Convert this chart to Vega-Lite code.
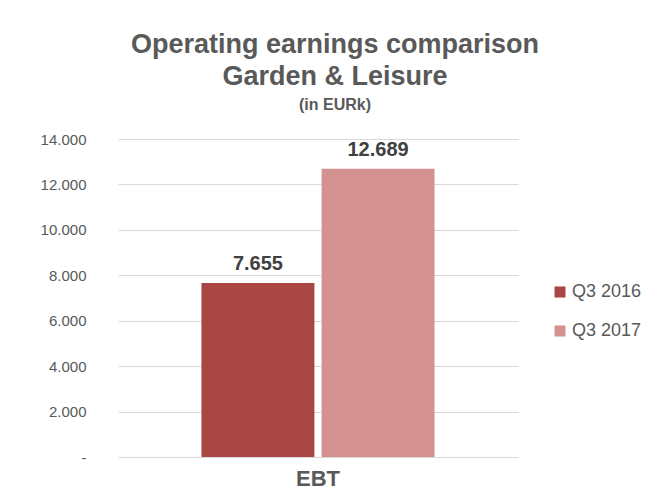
{
  "$schema": "https://vega.github.io/schema/vega-lite/v6.json",
  "autosize": "none",
  "width": 400,
  "height": 318,
  "padding": {"left": 118, "top": 139, "right": 137, "bottom": 46},
  "background": "white",
  "title": {
    "text": ["Operating earnings comparison", "Garden & Leisure"],
    "subtitle": "(in EURk)",
    "anchor": "middle",
    "dx": 17,
    "font": "Liberation Sans",
    "fontSize": 27,
    "fontWeight": "bold",
    "color": "#595959",
    "lineHeight": 32,
    "subtitleFont": "Liberation Sans",
    "subtitleFontSize": 16,
    "subtitleFontWeight": "bold",
    "subtitleColor": "#595959",
    "subtitlePadding": 6,
    "offset": 18
  },
  "data": {
    "values": [
      {"category": "EBT", "period": "Q3 2016", "value": 7655},
      {"category": "EBT", "period": "Q3 2017", "value": 12689}
    ]
  },
  "encoding": {
    "x": {
      "field": "category",
      "type": "nominal",
      "scale": {"paddingInner": 0, "paddingOuter": 0.358},
      "axis": {
        "title": null,
        "labelAngle": 0,
        "domain": false,
        "ticks": false,
        "labelFont": "Liberation Sans",
        "labelFontSize": 22,
        "labelFontWeight": "bold",
        "labelColor": "#595959",
        "labelPadding": 11
      }
    },
    "xOffset": {
      "field": "period",
      "type": "nominal",
      "scale": {"paddingInner": 0.06}
    },
    "y": {
      "field": "value",
      "type": "quantitative",
      "scale": {"domain": [0, 14000]},
      "axis": {
        "title": null,
        "values": [0, 2000, 4000, 6000, 8000, 10000, 12000, 14000],
        "labelExpr": "datum.value == 0 ? '-' : replace(format(datum.value, ','), regexp(',', 'g'), '.')",
        "domain": false,
        "ticks": false,
        "gridColor": "#D9D9D9",
        "gridWidth": 1,
        "labelFont": "Liberation Sans",
        "labelFontSize": 15,
        "labelColor": "#595959",
        "labelPadding": 32
      }
    }
  },
  "layer": [
    {
      "mark": {"type": "bar"},
      "encoding": {
        "color": {
          "field": "period",
          "type": "nominal",
          "scale": {"domain": ["Q3 2016", "Q3 2017"], "range": ["#A94542", "#D39190"]},
          "legend": {
            "title": null,
            "orient": "none",
            "legendX": 433,
            "legendY": 144,
            "symbolType": "square",
            "symbolSize": 121,
            "symbolStrokeWidth": 0,
            "symbolOpacity": 1,
            "rowPadding": 21,
            "labelFont": "Liberation Sans",
            "labelFontSize": 18,
            "labelColor": "#595959",
            "labelOffset": 3
          }
        }
      }
    },
    {
      "mark": {
        "type": "text",
        "baseline": "bottom",
        "dy": -9,
        "font": "Liberation Sans",
        "fontSize": 20,
        "fontWeight": "bold",
        "color": "#404040"
      },
      "encoding": {
        "text": {"field": "value", "type": "quantitative", "format": ",.0f"}
      }
    }
  ],
  "config": {
    "view": {"stroke": null},
    "locale": {"number": {"decimal": ",", "thousands": ".", "grouping": [3], "currency": ["", "€"]}}
  }
}
